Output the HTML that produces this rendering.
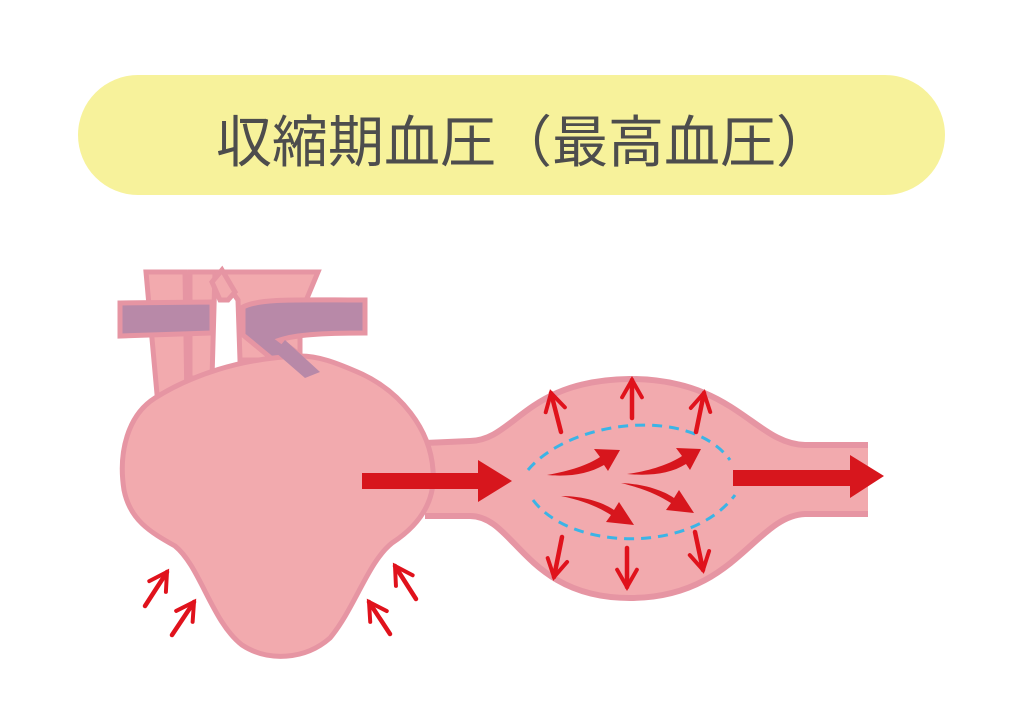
<!DOCTYPE html>
<html><head><meta charset="utf-8"><style>
html,body{margin:0;padding:0;background:#fff;width:1024px;height:709px;overflow:hidden}
</style></head><body>
<svg width="1024" height="709" viewBox="0 0 1024 709" xmlns="http://www.w3.org/2000/svg">
<defs>
<marker id="ch" viewBox="0 0 10 10" refX="8" refY="5" markerWidth="5.5" markerHeight="5.5" orient="auto">
<path d="M1,1 L8,5 L1,9" fill="none" stroke="#e0121c" stroke-width="1.6" stroke-linecap="round"/>
</marker>
</defs>
<rect x="78" y="75" width="867" height="120" rx="60" fill="#f7f29b"/>
<text x="524" y="162" text-anchor="middle" font-family="'Liberation Sans','Noto Sans CJK JP',sans-serif" font-size="56" fill="#4d4d4d">収縮期血圧（最高血圧）</text>

<!-- vessel -->
<path d="M425,443 L470,441 C515,440 525,380 630,379 C735,379 755,444 805,445 L868,445 L868,514 L805,514 C755,516 735,598 630,598 C525,598 515,516 470,516 L425,516 Z" fill="#f2aaae"/>
<path d="M425,443 L470,441 C515,440 525,380 630,379 C735,379 755,444 805,445 L868,445 M868,514 L805,514 C755,516 735,598 630,598 C525,598 515,516 470,516 L425,516" fill="none" stroke="#e695a3" stroke-width="6"/>

<!-- top vessels -->
<g fill="#f2aaae" stroke="#e695a3" stroke-width="5">
<path d="M146,272 L185,272 L187,405 L158,405 Z"/>
<path d="M190,272 L215,272 L212,378 L190,378 Z"/>
<path d="M218,272 L318,272 L300,315 L300,360 L240,360 L238,300 Z"/>
<path d="M212,282 L222,270 L235,292 L228,300 L220,300 Z"/>
</g>
<path d="M120,303 L212,302 L212,333 L120,336 Z" fill="#b889a8" stroke="#e695a3" stroke-width="5"/>
<path d="M243,307 C260,298 300,300 365,300 L365,333 C320,333 295,335 280,340 L320,370 L300,382 L243,335 Z" fill="#b889a8" stroke="#e695a3" stroke-width="5"/>

<!-- heart -->
<path d="M155,398 C128,415 118,452 124,490 C130,520 150,532 175,546 C200,566 212,622 242,645 C268,662 305,660 330,638 C355,608 368,562 392,543 C415,528 436,505 433,470 C430,428 400,392 362,374 C335,362 318,356 300,356 C240,358 190,376 155,398 Z" fill="#f2aaae" stroke="#e695a3" stroke-width="5"/>
<path d="M285,340 L320,372 L305,378 L275,352 Z" fill="#b889a8"/>

<!-- big arrows -->
<path d="M362,473 L478,473 L478,460 L512,481 L478,502 L478,489 L362,489 Z" fill="#d7161d"/>
<path d="M733,470 L850,470 L850,455 L884,476 L850,498 L850,486 L733,486 Z" fill="#d7161d"/>

<!-- dashed lens -->
<path d="M528,470 C570,420 690,405 730,460" fill="none" stroke="#3bb4e6" stroke-width="3" stroke-dasharray="10,7"/>
<path d="M533,500 C570,550 690,555 735,495" fill="none" stroke="#3bb4e6" stroke-width="3" stroke-dasharray="10,7"/>

<!-- curved arrows -->
<g fill="#d7161d">
<path d="M547,475 C570,471 588,465 600,457 L594,449 L620,450 L608,471 L604,465 C588,474 570,477 547,475 Z"/>
<path d="M627,474 C650,471 670,464 682,456 L676,448 L701,449 L690,470 L686,464 C670,474 650,476 627,474 Z"/>
<path d="M561,496 C585,496 604,503 614,510 L619,502 L634,525 L606,522 L611,515 C598,507 585,501 561,496 Z"/>
<path d="M621,483 C645,484 664,491 674,498 L679,490 L694,513 L666,510 L671,503 C658,495 645,489 621,483 Z"/>
</g>

<!-- pressure arrows -->
<g stroke="#e0121c" stroke-width="4.5" fill="none" marker-end="url(#ch)" stroke-linecap="round">
<line x1="561" y1="432" x2="551" y2="393"/>
<line x1="632" y1="418" x2="632" y2="380"/>
<line x1="696" y1="432" x2="704" y2="393"/>
<line x1="562" y1="537" x2="554" y2="577"/>
<line x1="627" y1="548" x2="627" y2="587"/>
<line x1="695" y1="532" x2="703" y2="570"/>
<line x1="145" y1="606" x2="167" y2="572"/>
<line x1="172" y1="635" x2="194" y2="602"/>
<line x1="416" y1="599" x2="395" y2="566"/>
<line x1="390" y1="634" x2="369" y2="602"/>
</g>
</svg>
</body></html>
